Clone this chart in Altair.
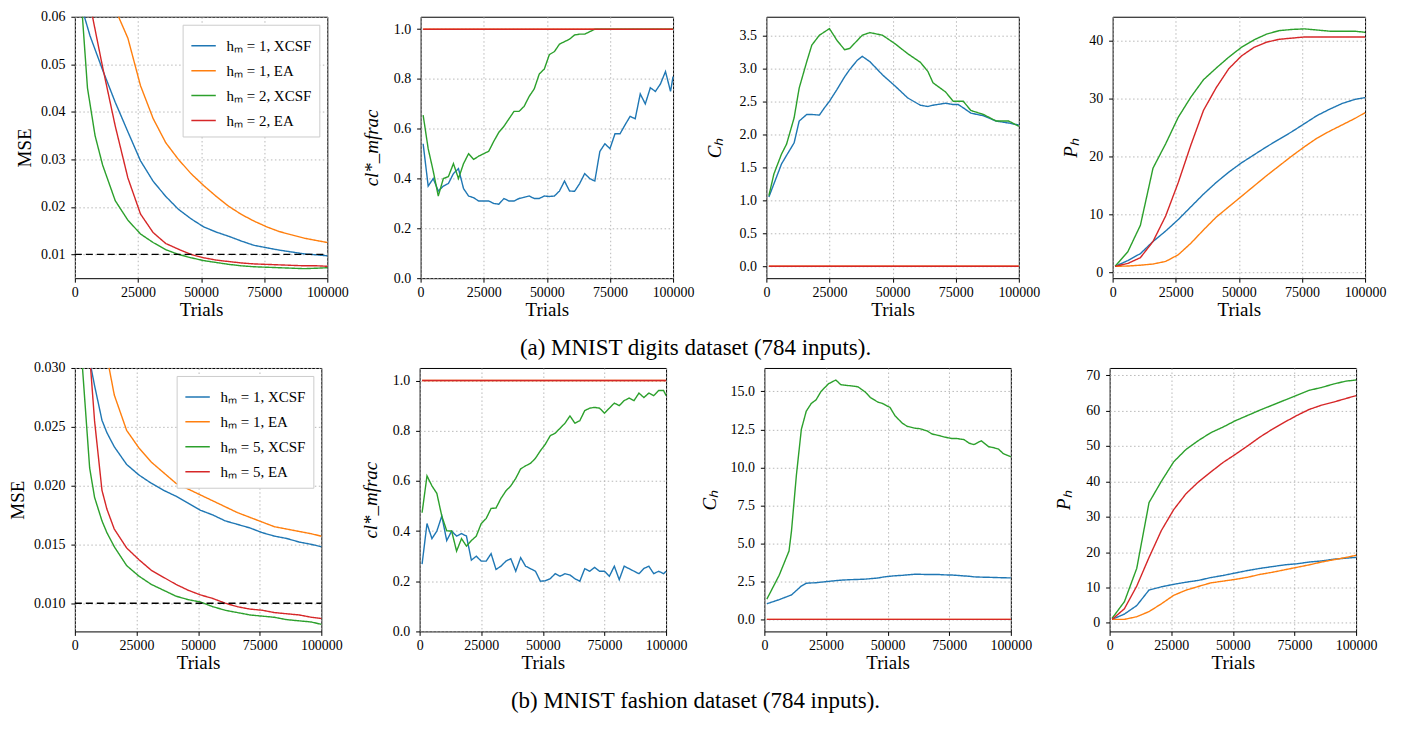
import altair as alt
import pandas as pd

FONT = "Liberation Serif"
COLORS = ["#1f77b4", "#ff7f0e", "#2ca02c", "#d62728"]
LABELS_DIGITS = ["hₘ = 1, XCSF", "hₘ = 1, EA", "hₘ = 2, XCSF", "hₘ = 2, EA"]
LABELS_FASHION = ["hₘ = 1, XCSF", "hₘ = 1, EA", "hₘ = 5, XCSF", "hₘ = 5, EA"]
THRESHOLD_LABEL = "MSE = 0.01"
CAPTION_A = "(a) MNIST digits dataset (784 inputs)."
CAPTION_B = "(b) MNIST fashion dataset (784 inputs)."
X_TICKS = [0, 25000, 50000, 75000, 100000]
THRESHOLD_X = [0, 100000]
THRESHOLD_Y = [0.01, 0.01]

X_FINE = [1000, 3000, 5000, 7000, 9000, 11000, 13000, 15000, 17000, 19000,
          21000, 23000, 25000, 27000, 29000, 31000, 33000, 35000, 37000, 39000,
          41000, 43000, 45000, 47000, 49000, 51000, 53000, 55000, 57000, 59000,
          61000, 63000, 65000, 67000, 69000, 71000, 73000, 75000, 77000, 79000,
          81000, 83000, 85000, 87000, 89000, 91000, 93000, 95000, 97000, 99000,
          100000]
X_CONST = [1000, 11000, 21000, 31000, 41000, 51000, 61000, 71000, 81000, 91000, 100000]
ONES = [1.0, 1.0, 1.0, 1.0, 1.0, 1.0, 1.0, 1.0, 1.0, 1.0, 1.0]
ZEROS = [0.0, 0.0, 0.0, 0.0, 0.0, 0.0, 0.0, 0.0, 0.0, 0.0, 0.0]
X_P = [1000, 6000, 11000, 16000, 21000, 26000, 31000, 36000, 41000, 46000,
       51000, 56000, 61000, 66000, 71000, 76000, 81000, 86000, 91000, 96000, 100000]

# ---- (a) digits, MSE (each curve starts where it enters the top of the plot) ----
X_MSE_D_XCSF1 = [3800, 6000, 11000, 16000, 21000, 26000, 31000, 36000, 41000, 46000,
                 51000, 56000, 61000, 66000, 71000, 76000, 81000, 86000, 91000, 96000, 100000]
MSE_D_XCSF1 = [0.060, 0.056, 0.0488, 0.042, 0.0358, 0.0297, 0.0254, 0.0222, 0.0195, 0.0175,
               0.0158, 0.0147, 0.0138, 0.0128, 0.0119, 0.0114, 0.0109, 0.0105, 0.0101, 0.0099, 0.0097]
X_MSE_D_EA1 = [17300, 21000, 26000, 31000, 36000, 41000, 46000,
               51000, 56000, 61000, 66000, 71000, 76000, 81000, 86000, 91000, 96000, 100000]
MSE_D_EA1 = [0.060, 0.0555, 0.0455, 0.0386, 0.0335, 0.0300, 0.0270,
             0.0245, 0.0222, 0.0201, 0.0184, 0.0170, 0.0158, 0.0148, 0.0141, 0.0134, 0.0129, 0.0125]
X_MSE_D_XCSF2 = [3000, 5000, 8000, 11000, 16000, 21000, 26000, 31000, 36000, 41000, 46000,
                 51000, 56000, 61000, 66000, 71000, 76000, 81000, 86000, 91000, 96000, 100000]
MSE_D_XCSF2 = [0.060, 0.045, 0.035, 0.0288, 0.0213, 0.0172, 0.0143, 0.0125, 0.0110, 0.0100, 0.0093,
               0.0087, 0.0083, 0.0079, 0.0076, 0.0074, 0.0073, 0.0072, 0.0071, 0.0070, 0.0071, 0.0072]
X_MSE_D_EA2 = [7000, 11000, 16000, 21000, 26000, 31000, 36000, 41000, 46000,
               51000, 56000, 61000, 66000, 71000, 76000, 81000, 86000, 91000, 96000, 100000]
MSE_D_EA2 = [0.060, 0.0494, 0.037, 0.0261, 0.0185, 0.0146, 0.0123, 0.0111, 0.0100,
             0.0093, 0.0088, 0.0085, 0.0082, 0.0080, 0.0079, 0.0078, 0.0077, 0.0076, 0.0076, 0.0075]

CL_D_XCSF1 = [0.54, 0.37, 0.40, 0.35, 0.37, 0.38, 0.42, 0.44, 0.36, 0.33,
              0.323, 0.31, 0.31, 0.31, 0.30, 0.297, 0.32, 0.31, 0.31, 0.32,
              0.325, 0.33, 0.32, 0.32, 0.33, 0.328, 0.33, 0.35, 0.39, 0.35,
              0.349, 0.38, 0.42, 0.40, 0.39, 0.509, 0.54, 0.52, 0.58, 0.58,
              0.616, 0.65, 0.64, 0.74, 0.70, 0.765, 0.75, 0.78, 0.83, 0.75,
              0.81]
CL_D_XCSF2 = [0.655, 0.52, 0.43, 0.33, 0.40, 0.408, 0.46, 0.40, 0.46, 0.50,
              0.477, 0.49, 0.50, 0.51, 0.55, 0.586, 0.61, 0.64, 0.67, 0.67,
              0.69, 0.73, 0.76, 0.82, 0.84, 0.898, 0.91, 0.94, 0.95, 0.96,
              0.977, 0.98, 0.98, 0.99, 1.0, 1.0, 1.0, 1.0, 1.0, 1.0,
              1.0, 1.0, 1.0, 1.0, 1.0, 1.0, 1.0, 1.0, 1.0, 1.0,
              1.0]

X_CH_D = [1000, 3000, 6000, 8000, 11000, 13000, 16000, 18000, 21000, 23000, 25000, 28000,
          31000, 33000, 36000, 38000, 41000, 46000, 51000, 56000, 61000, 64000, 66000, 71000,
          74000, 76000, 78000, 81000, 86000, 91000, 96000, 100000]
CH_D_XCSF1 = [1.05, 1.25, 1.55, 1.68, 1.87, 2.2, 2.3, 2.3, 2.29, 2.4, 2.5, 2.68,
              2.87, 2.98, 3.12, 3.18, 3.10, 2.9, 2.73, 2.55, 2.44, 2.42, 2.44, 2.47,
              2.45, 2.45, 2.4, 2.32, 2.28, 2.20, 2.17, 2.14]
CH_D_XCSF2 = [1.07, 1.4, 1.7, 1.85, 2.25, 2.7, 3.1, 3.35, 3.5, 3.55, 3.6, 3.42,
              3.28, 3.3, 3.42, 3.5, 3.54, 3.5, 3.37, 3.22, 3.09, 2.95, 2.78, 2.64,
              2.5, 2.5, 2.5, 2.36, 2.3, 2.2, 2.2, 2.12]

P_D_XCSF1 = [1.0, 2.0, 3.2, 5.3, 7.1, 9.1, 11.3, 13.5, 15.5, 17.3, 18.9,
             20.3, 21.7, 23.0, 24.3, 25.7, 27.1, 28.2, 29.2, 29.9, 30.2]
P_D_EA1 = [1.0, 1.05, 1.2, 1.4, 1.85, 3.0, 5.0, 7.3, 9.5, 11.3, 13.1,
           14.9, 16.7, 18.4, 20.1, 21.7, 23.2, 24.4, 25.5, 26.6, 27.6]
P_D_XCSF2 = [1.0, 3.5, 8.1, 18.0, 22.2, 26.8, 30.3, 33.3, 35.3, 37.2, 38.9,
             40.2, 41.2, 41.8, 42.0, 42.1, 41.9, 41.7, 41.7, 41.7, 41.5]
P_D_EA2 = [1.0, 1.5, 2.5, 5.3, 9.7, 15.5, 22.0, 28.0, 31.9, 35.2, 37.4,
           38.9, 39.8, 40.3, 40.5, 40.7, 40.7, 40.7, 40.7, 40.7, 40.7]

# ---- (b) fashion, MSE ----
X_MSE_F_XCSF1 = [6600, 8000, 11000, 13000, 16000, 21000, 26000, 31000, 36000, 41000,
                 46000, 51000, 56000, 61000, 66000, 71000, 76000, 81000, 86000, 91000, 96000, 100000]
MSE_F_XCSF1 = [0.030, 0.0285, 0.02556, 0.0245, 0.0233, 0.0218, 0.0209, 0.0202, 0.0196, 0.0191,
               0.0185, 0.0179, 0.0175, 0.0170, 0.0167, 0.0164, 0.0160, 0.0157, 0.0155, 0.0152, 0.0150, 0.0148]
X_MSE_F_EA1 = [13900, 16000, 21000, 26000, 31000, 36000, 41000,
               46000, 51000, 56000, 61000, 66000, 71000, 76000, 81000, 86000, 91000, 96000, 100000]
MSE_F_EA1 = [0.030, 0.0277, 0.0247, 0.0232, 0.0220, 0.0211, 0.0202,
             0.0197, 0.0192, 0.0187, 0.0182, 0.0177, 0.0173, 0.0169, 0.0165, 0.0163, 0.0161, 0.0159, 0.0157]
X_MSE_F_XCSF5 = [3100, 6000, 8000, 11000, 13000, 16000, 21000, 26000, 31000, 36000, 41000,
                 46000, 51000, 56000, 61000, 66000, 71000, 76000, 81000, 86000, 91000, 96000, 100000]
MSE_F_XCSF5 = [0.030, 0.0215, 0.019, 0.0170, 0.0160, 0.0148, 0.0132, 0.0123, 0.0116, 0.0111, 0.0106,
               0.0103, 0.0101, 0.0097, 0.0094, 0.0092, 0.0090, 0.0089, 0.0088, 0.0086, 0.0085, 0.0084, 0.0082]
X_MSE_F_EA5 = [6400, 8000, 11000, 13000, 16000, 21000, 26000, 31000, 36000, 41000,
               46000, 51000, 56000, 61000, 66000, 71000, 76000, 81000, 86000, 91000, 96000, 100000]
MSE_F_EA5 = [0.030, 0.0255, 0.0196, 0.0180, 0.0163, 0.0147, 0.0137, 0.0128, 0.0122, 0.0116,
             0.0111, 0.0107, 0.0104, 0.0100, 0.0097, 0.0095, 0.0094, 0.0092, 0.0091, 0.0090, 0.0088, 0.0087]

CL_F_XCSF1 = [0.268, 0.43, 0.37, 0.40, 0.46, 0.362, 0.40, 0.38, 0.39, 0.38,
              0.284, 0.30, 0.28, 0.28, 0.31, 0.247, 0.26, 0.28, 0.29, 0.24,
              0.294, 0.26, 0.25, 0.24, 0.20, 0.202, 0.21, 0.23, 0.22, 0.23,
              0.225, 0.21, 0.20, 0.25, 0.24, 0.255, 0.24, 0.24, 0.22, 0.26,
              0.206, 0.26, 0.25, 0.24, 0.23, 0.251, 0.26, 0.23, 0.24, 0.23,
              0.24]
CL_F_XCSF5 = [0.473, 0.62, 0.58, 0.55, 0.46, 0.401, 0.40, 0.32, 0.37, 0.34,
              0.362, 0.38, 0.43, 0.45, 0.49, 0.492, 0.53, 0.56, 0.58, 0.61,
              0.648, 0.66, 0.67, 0.69, 0.72, 0.746, 0.78, 0.79, 0.81, 0.83,
              0.859, 0.83, 0.84, 0.88, 0.89, 0.893, 0.89, 0.87, 0.89, 0.91,
              0.90, 0.92, 0.93, 0.92, 0.95, 0.932, 0.95, 0.94, 0.96, 0.96,
              0.94]

X_CH_F = [1000, 6000, 10000, 11000, 13000, 15000, 17000, 19000, 21000, 23000,
          26000, 29000, 31000, 33000, 36000, 38000, 41000, 43000, 46000, 48000,
          51000, 53000, 56000, 58000, 61000, 63000, 66000, 68000, 71000, 73000,
          76000, 78000, 81000, 83000, 85000, 88000, 91000, 93000, 95000, 97000, 100000]
CH_F_XCSF1 = [1.03, 1.3, 1.55, 1.61, 1.9, 2.2, 2.38, 2.4, 2.41, 2.45,
              2.5, 2.55, 2.58, 2.6, 2.62, 2.63, 2.65, 2.68, 2.72, 2.78,
              2.84, 2.87, 2.9, 2.93, 2.97, 2.97, 2.95, 2.95, 2.95, 2.93,
              2.92, 2.9, 2.86, 2.84, 2.8, 2.78, 2.77, 2.76, 2.75, 2.74, 2.73]
CH_F_XCSF5 = [1.33, 2.9, 4.5, 5.81, 9.5, 12.5, 13.7, 14.2, 14.45, 15.0,
              15.5, 15.75, 15.44, 15.4, 15.35, 15.3, 14.95, 14.6, 14.3, 14.2,
              13.94, 13.4, 12.9, 12.7, 12.58, 12.55, 12.4, 12.2, 12.09, 12.0,
              11.9, 11.9, 11.83, 11.6, 11.5, 11.75, 11.36, 11.3, 11.2, 10.9, 10.7]

P_F_XCSF1 = [1.0, 2.5, 4.9, 9.3, 10.2, 10.9, 11.5, 12.0, 12.8, 13.4, 14.1,
             14.8, 15.4, 15.9, 16.4, 16.7, 17.2, 17.5, 18.0, 18.3, 18.5]
P_F_EA1 = [1.0, 1.0, 1.75, 3.2, 5.4, 7.8, 9.25, 10.3, 11.3, 11.8, 12.3,
           12.9, 13.7, 14.3, 15.0, 15.7, 16.4, 17.2, 17.85, 18.5, 19.1]
P_F_XCSF5 = [1.3, 6.0, 15.4, 34.0, 40.0, 45.5, 49.0, 51.5, 53.7, 55.3, 57.1,
             58.6, 60.1, 61.5, 62.9, 64.3, 65.7, 66.5, 67.5, 68.3, 68.6]
P_F_EA5 = [1.0, 4.0, 10.4, 18.5, 26.1, 32.0, 36.5, 39.8, 42.6, 45.3, 47.6,
           50.0, 52.5, 54.7, 56.7, 58.6, 60.3, 61.5, 62.4, 63.4, 64.2]


def indep(c):
    return c.resolve_scale(color="independent", strokeDash="independent") \
            .resolve_legend(color="independent", strokeDash="independent")


def build_panel(series, labels, ydom, yticks, yfmt, ytitle, italic, w, h, tpad,
                show_legend=False, threshold=False):
    frames = [pd.DataFrame({"x": xs, "y": ys, "series": lab}) for (xs, ys), lab in zip(series, labels)]
    domain = list(labels)
    colors = list(COLORS)
    dashes = [[1, 0], [1, 0], [1, 0], [1, 0]]
    if threshold:
        frames.append(pd.DataFrame({"x": THRESHOLD_X, "y": THRESHOLD_Y, "series": THRESHOLD_LABEL}))
        domain.append(THRESHOLD_LABEL)
        colors.append("black")
        dashes.append([7, 4])
    df = pd.concat(frames, ignore_index=True)

    if show_legend:
        leg = alt.Legend(title=None, orient="top-right", offset=8, padding=8, values=list(labels),
                         fillColor="white", strokeColor="#cccccc",
                         labelFont=FONT, labelFontSize=15, labelColor="black", labelOffset=10,
                         symbolStrokeWidth=1.5, symbolSize=600, rowPadding=4)
    else:
        leg = None

    return alt.Chart(df).mark_line(strokeWidth=1.4).encode(
        x=alt.X("x:Q", scale=alt.Scale(domain=[0, 100000], nice=False, zero=False),
                axis=alt.Axis(values=X_TICKS, format="d", title="Trials", labelFlush=False)),
        y=alt.Y("y:Q", scale=alt.Scale(domain=ydom, nice=False, zero=False),
                axis=alt.Axis(values=yticks, format=yfmt, title=ytitle, titlePadding=tpad,
                              titleFontStyle="italic" if italic else "normal")),
        color=alt.Color("series:N", scale=alt.Scale(domain=domain, range=colors), legend=leg),
        strokeDash=alt.StrokeDash("series:N", scale=alt.Scale(domain=domain, range=dashes), legend=None),
    ).properties(width=w, height=h)


W1, W2 = 253, 247
H1, H2 = 262, 264

p11 = build_panel([(X_MSE_D_XCSF1, MSE_D_XCSF1), (X_MSE_D_EA1, MSE_D_EA1),
                   (X_MSE_D_XCSF2, MSE_D_XCSF2), (X_MSE_D_EA2, MSE_D_EA2)],
                  LABELS_DIGITS, [0.005, 0.06], [0.01, 0.02, 0.03, 0.04, 0.05, 0.06], ".2f", "MSE", False,
                  W1, H1, 6, show_legend=True, threshold=True)
p12 = build_panel([(X_FINE, CL_D_XCSF1), (X_CONST, ONES), (X_FINE, CL_D_XCSF2), (X_CONST, ONES)],
                  LABELS_DIGITS, [0, 1.05], [0, 0.2, 0.4, 0.6, 0.8, 1.0], ".1f", "cl*_mfrac", True, W1, H1, 12)
p13 = build_panel([(X_CH_D, CH_D_XCSF1), (X_CONST, ZEROS), (X_CH_D, CH_D_XCSF2), (X_CONST, ZEROS)],
                  LABELS_DIGITS, [-0.18, 3.78], [0, 0.5, 1.0, 1.5, 2.0, 2.5, 3.0, 3.5], ".1f", "Cₕ", True,
                  W1, H1, 14)
p14 = build_panel([(X_P, P_D_XCSF1), (X_P, P_D_EA1), (X_P, P_D_XCSF2), (X_P, P_D_EA2)],
                  LABELS_DIGITS, [-1.05, 44.2], [0, 10, 20, 30, 40], "d", "Pₕ", True, W1, H1, 8)

p21 = build_panel([(X_MSE_F_XCSF1, MSE_F_XCSF1), (X_MSE_F_EA1, MSE_F_EA1),
                   (X_MSE_F_XCSF5, MSE_F_XCSF5), (X_MSE_F_EA5, MSE_F_EA5)],
                  LABELS_FASHION, [0.0076, 0.030], [0.010, 0.015, 0.020, 0.025, 0.030], ".3f", "MSE", False,
                  W2, H2, 6, show_legend=True, threshold=True)
p22 = build_panel([(X_FINE, CL_F_XCSF1), (X_CONST, ONES), (X_FINE, CL_F_XCSF5), (X_CONST, ONES)],
                  LABELS_FASHION, [0, 1.05], [0, 0.2, 0.4, 0.6, 0.8, 1.0], ".1f", "cl*_mfrac", True, W2, H2, 12)
p23 = build_panel([(X_CH_F, CH_F_XCSF1), (X_CONST, ZEROS), (X_CH_F, CH_F_XCSF5), (X_CONST, ZEROS)],
                  LABELS_FASHION, [-0.79, 16.54], [0, 2.5, 5.0, 7.5, 10.0, 12.5, 15.0], ".1f", "Cₕ", True,
                  W2, H2, 10)
p24 = build_panel([(X_P, P_F_XCSF1), (X_P, P_F_EA1), (X_P, P_F_XCSF5), (X_P, P_F_EA5)],
                  LABELS_FASHION, [-2.4, 72.0], [0, 10, 20, 30, 40, 50, 60, 70], "d", "Pₕ", True, W2, H2, 12)


def row(panels, gaps):
    a, b, c, d = panels
    g1, g2, g3 = gaps
    inner = indep(alt.hconcat(c, d, spacing=g3))
    mid = indep(alt.hconcat(b, inner, spacing=g2))
    return indep(alt.hconcat(a, mid, spacing=g1))


def caption(text):
    return alt.Chart(pd.DataFrame({"caption": [text]})).mark_text(
        font=FONT, fontSize=23, color="black"
    ).encode(text="caption:N").properties(
        width=1244, height=24, view=alt.ViewBackground(strokeOpacity=0)
    )


row1 = row([p11, p12, p13, p14], [12.5, 10.5, 20])
row2 = row([p21, p22, p23, p24], [17.5, 12.5, 21])

lower = indep(alt.vconcat(caption(CAPTION_A), row2, spacing=0))
chart = indep(alt.vconcat(row1, lower, caption(CAPTION_B), spacing=16)) \
    .properties(padding={"left": 0, "top": 0, "right": 10, "bottom": 0}) \
    .configure_view(stroke="black", strokeWidth=1) \
    .configure_axis(labelFont=FONT, labelFontSize=14, labelColor="black",
                    titleFont=FONT, titleFontSize=19, titleFontWeight="normal", titleColor="black",
                    tickColor="black", tickSize=4, domain=False, grid=True,
                    gridColor="#b0b0b0", gridDash=[1.5, 2.5], gridWidth=0.9) \
    .configure_axisX(labelPadding=3, titlePadding=1) \
    .configure_axisY(labelPadding=6)

chart.save("out.html", embed_options={"renderer": "svg", "actions": False})
